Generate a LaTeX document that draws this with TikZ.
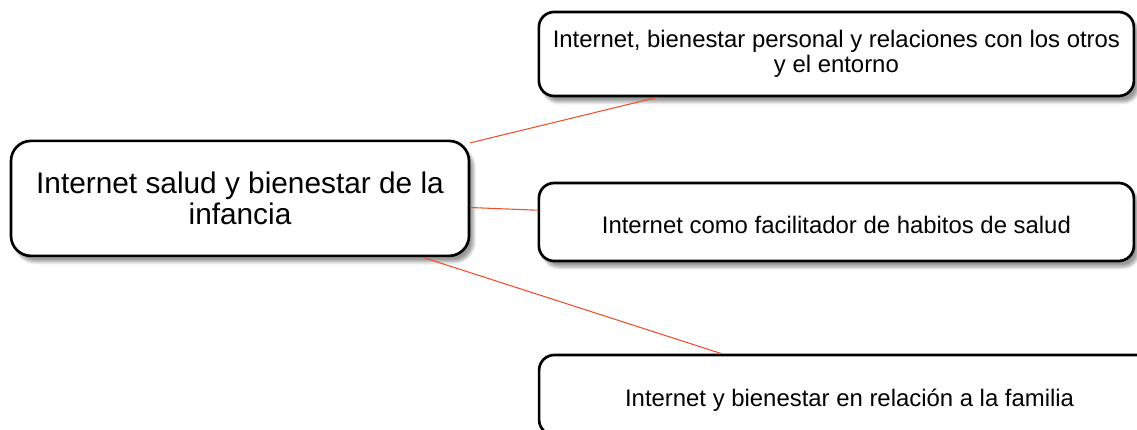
\documentclass[tikz,border=0pt]{standalone}
\usepackage{fontspec}
\setmainfont{Liberation Sans}
\usepackage{tikz}
\usetikzlibrary{positioning,shadows.blur}
\definecolor{linkred}{RGB}{238,78,42}

\begin{document}
\begin{tikzpicture}[
    mainbox/.style={
        draw=black,
        rounded corners=5mm,
        line width=1.9pt,
        minimum width=11.45cm,
        minimum height=2.875cm,
        align=center,
        fill=white,
        font=\fontsize{21.2}{21.6}\selectfont,
        blur shadow={shadow xshift=1.1mm, shadow yshift=-1.5mm, shadow blur steps=6, shadow opacity=40}
    },
    topicbox/.style={
        draw=black,
        rounded corners=3.8mm,
        line width=1.9pt,
        minimum width=14.875cm,
        minimum height=1.95cm,
        align=center,
        fill=white,
        font=\fontsize{17}{17.8}\selectfont,
        blur shadow={shadow xshift=1.1mm, shadow yshift=-1.5mm, shadow blur steps=6, shadow opacity=40}
    },
    lowtext/.style={text height=1.57em, text depth=0pt},
    link/.style={draw=linkred, line width=0.75pt}
]

\useasboundingbox (0,0) rectangle (28.425,-10.75);

% central topic
\node[mainbox] (infancia) at (6.0,-4.96)
{Internet salud y bienestar de la\\infancia};

% branches
\node[topicbox, minimum height=2.1cm] (relaciones) at (20.91,-1.35)
{Internet, bienestar personal y relaciones con los otros\\y el entorno};

\node[topicbox, lowtext] (habitos) at (20.91,-5.55)
{Internet como facilitador de habitos de salud};

\node[topicbox, lowtext, minimum width=15.525cm, minimum height=2.0cm] (familia) at (21.24,-9.875)
{Internet y bienestar en relación a la familia};

\draw[link] (infancia) -- (relaciones);
\draw[link] (infancia) -- (habitos);
\draw[link] (infancia) -- (familia);

\end{tikzpicture}
\end{document}
